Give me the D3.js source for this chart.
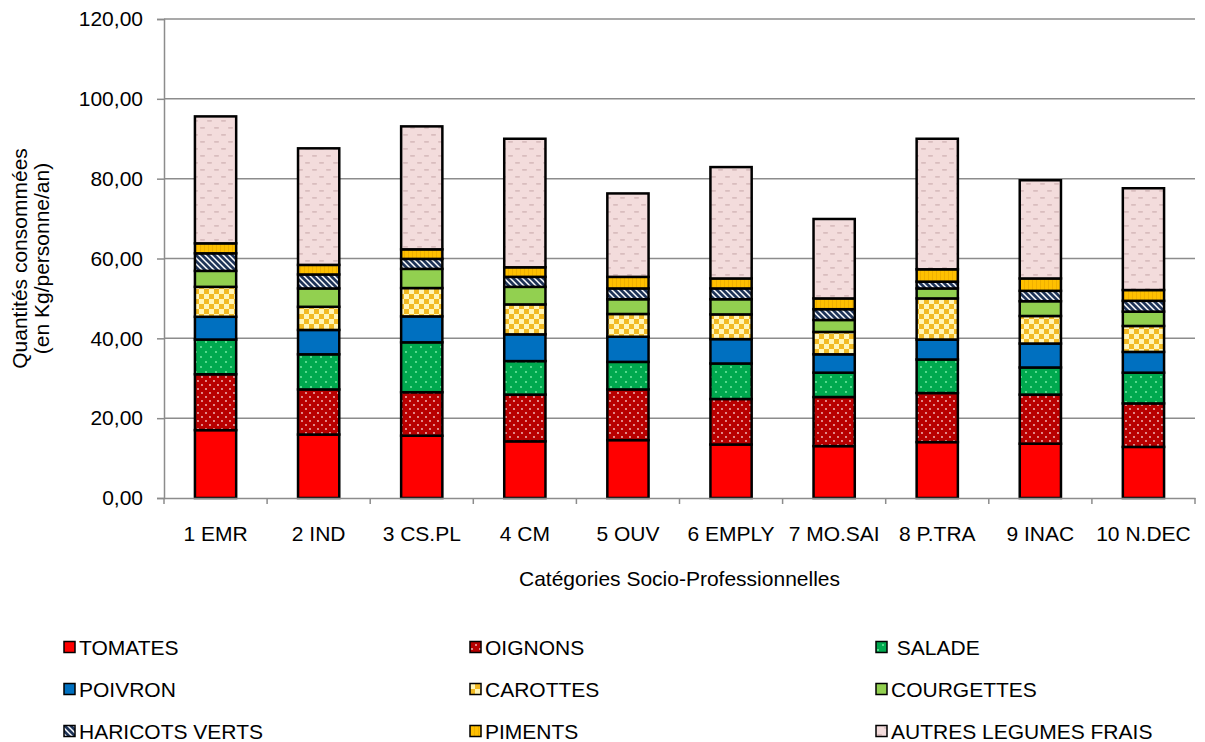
<!DOCTYPE html>
<html>
<head>
<meta charset="utf-8">
<script src="https://cdn.jsdelivr.net/npm/d3@7"></script>
<style>
  html, body { margin: 0; padding: 0; background: #fff; }
  svg { display: block; font-family: "Liberation Sans", Arial, sans-serif; }
</style>
</head>
<body>
<svg id="chart" width="1205" height="742"></svg>
<script>
// Catégories socio-professionnelles
const categories = ["1 EMR", "2 IND", "3 CS.PL", "4 CM", "5 OUV", "6 EMPLY", "7 MO.SAI", "8 P.TRA", "9 INAC", "10 N.DEC"];

// Quantités consommées par légume (kg/personne/an)
const tomates    = [17.0, 15.9, 15.6, 14.2, 14.5, 13.4, 13.0, 14.0, 13.6, 12.8];
const oignons    = [14.0, 11.3, 10.9, 11.7, 12.7, 11.4, 12.3, 12.3, 12.3, 10.9];
const salade     = [8.7, 8.8, 12.5, 8.4, 6.9, 8.9, 6.1, 8.4, 6.8, 7.7];
const poivron    = [5.7, 6.1, 6.5, 6.7, 6.3, 6.1, 4.6, 5.0, 6.0, 5.2];
const carottes   = [7.5, 5.8, 7.1, 7.5, 5.7, 6.2, 5.6, 10.3, 6.9, 6.5];
const courgettes = [4.0, 4.6, 4.8, 4.4, 3.7, 3.8, 3.0, 2.5, 3.7, 3.6];
const haricots   = [4.4, 3.5, 2.5, 2.5, 2.7, 2.7, 2.7, 1.7, 2.6, 2.7];
const piments    = [2.5, 2.4, 2.4, 2.4, 2.9, 2.5, 2.7, 3.1, 3.1, 2.7];
const autres     = [31.8, 29.2, 30.8, 32.2, 20.9, 27.9, 19.9, 32.7, 24.6, 25.5];

const seriesNames = ["TOMATES", "OIGNONS", " SALADE", "POIVRON", "CAROTTES", "COURGETTES", "HARICOTS VERTS", "PIMENTS", "AUTRES LEGUMES FRAIS"];
const seriesValues = [tomates, oignons, salade, poivron, carottes, courgettes, haricots, piments, autres];
const yTicks = [0, 20, 40, 60, 80, 100, 120];

const FONT = 21;
const svg = d3.select("#chart");
const margin = { left: 164, right: 10, top: 19, bottom: 244 };
const W = 1205, H = 742;
const plotW = W - margin.left - margin.right;
const plotH = H - margin.top - margin.bottom;

// ---- fill patterns for each vegetable ----
const defs = svg.append("defs");

function pat(id, size, bg, draw) {
  const p = defs.append("pattern").attr("id", id)
    .attr("patternUnits", "userSpaceOnUse")
    .attr("width", size).attr("height", size);
  p.append("rect").attr("width", size).attr("height", size).attr("fill", bg);
  draw(p);
  return `url(#${id})`;
}

const fills = [];
fills.push("#FF0000");
fills.push(pat("p-oign", 8, "#B80000", p => {
  p.append("circle").attr("cx", 2).attr("cy", 2).attr("r", 0.9).attr("fill", "#F4C8C8");
  p.append("circle").attr("cx", 6).attr("cy", 6).attr("r", 0.9).attr("fill", "#F4C8C8");
}));
fills.push(pat("p-sal", 10, "#00A94F", p => {
  p.append("circle").attr("cx", 2).attr("cy", 3).attr("r", 0.9).attr("fill", "#7CF0A8");
  p.append("circle").attr("cx", 7).attr("cy", 8).attr("r", 0.9).attr("fill", "#7CF0A8");
}));
fills.push("#0070C0");
fills.push(pat("p-car", 10, "#FFF6B8", p => {
  p.append("rect").attr("x", 0).attr("y", 0).attr("width", 5).attr("height", 5).attr("fill", "#F2BA22");
  p.append("rect").attr("x", 5).attr("y", 5).attr("width", 5).attr("height", 5).attr("fill", "#F2BA22");
}));
fills.push("#92D050");
fills.push(pat("p-har", 6, "#FFFFFF", p => {
  p.append("path").attr("d", "M-1,-1 L7,7 M-4,2 L4,10 M2,-4 L10,4")
    .attr("stroke", "#1F3458").attr("stroke-width", 2.8);
}));
fills.push(pat("p-pim", 4, "#FFC000", p => {
  p.append("rect").attr("x", 0).attr("y", 0).attr("width", 1).attr("height", 4).attr("fill", "#F0B000");
}));
fills.push(pat("p-aut", 14, "#F3DCDC", p => {
  p.append("rect").attr("x", 1).attr("y", 3).attr("width", 5).attr("height", 1.8).attr("rx", 0.8).attr("fill", "#D9BDBE");
  p.append("rect").attr("x", 8).attr("y", 10).attr("width", 5).attr("height", 1.8).attr("rx", 0.8).attr("fill", "#D9BDBE");
}));

// ---- scales ----
const x = d3.scaleBand().domain(categories).range([0, plotW]).paddingInner(0.6).paddingOuter(0.3);
const y = d3.scaleLinear().domain([0, 120]).range([plotH, 0]);

const g = svg.append("g").attr("transform", `translate(${margin.left},${margin.top})`);

// gridlines
g.append("g").selectAll("line").data(yTicks.filter(d => d > 0)).join("line")
  .attr("x1", 0).attr("x2", plotW)
  .attr("y1", d => y(d)).attr("y2", d => y(d))
  .attr("stroke", "#8C8C8C").attr("stroke-width", 1.5);

// ---- stacked bars ----
const rows = categories.map((c, i) => {
  const r = { cat: c };
  seriesNames.forEach((s, k) => r[s] = seriesValues[k][i]);
  return r;
});
const stack = d3.stack().keys(seriesNames)(rows);

g.append("g").selectAll("g").data(stack).join("g")
  .attr("fill", (d, k) => fills[k])
  .selectAll("rect").data(d => d).join("rect")
  .attr("x", d => x(d.data.cat))
  .attr("y", d => y(d[1]))
  .attr("width", x.bandwidth())
  .attr("height", d => y(d[0]) - y(d[1]))
  .attr("stroke", "#000").attr("stroke-width", 2.5);

// ---- axes ----
const fmt = d3.formatLocale({ decimal: ",", thousands: " ", grouping: [3], currency: ["", "€"] }).format(".2f");

const yAxis = g.append("g").call(d3.axisLeft(y).tickValues(yTicks).tickFormat(fmt).tickSizeOuter(0).tickSize(7).tickPadding(14));
yAxis.select(".domain").attr("stroke", "#8C8C8C").attr("stroke-width", 1.5);
yAxis.selectAll(".tick line").attr("stroke", "#8C8C8C").attr("stroke-width", 1.5);
yAxis.selectAll(".tick text").attr("font-size", FONT).attr("fill", "#000")
  .attr("font-family", "Liberation Sans, Arial, sans-serif");

const xAxis = g.append("g").attr("transform", `translate(0,${plotH})`)
  .call(d3.axisBottom(x).tickSize(0).tickPadding(28));
xAxis.select(".domain").attr("stroke", "#8C8C8C").attr("stroke-width", 1.5);
xAxis.selectAll(".tick text").attr("font-size", FONT).attr("fill", "#000")
  .attr("font-family", "Liberation Sans, Arial, sans-serif");

// category separator ticks below the axis
g.append("g").selectAll("line").data(d3.range(categories.length + 1)).join("line")
  .attr("x1", i => i * plotW / categories.length).attr("x2", i => i * plotW / categories.length)
  .attr("y1", plotH).attr("y2", plotH + 6)
  .attr("stroke", "#8C8C8C").attr("stroke-width", 1.5);

// axis titles
svg.append("text")
  .attr("x", margin.left + plotW / 2).attr("y", 586)
  .attr("text-anchor", "middle").attr("font-size", FONT)
  .text("Catégories Socio-Professionnelles");

const yt = svg.append("text")
  .attr("transform", `translate(27,${margin.top + plotH / 2}) rotate(-90)`)
  .attr("text-anchor", "middle").attr("font-size", FONT);
yt.append("tspan").attr("x", 0).attr("dy", 0).text("Quantités consommées");
yt.append("tspan").attr("x", 0).attr("dy", 22).text("(en Kg/personne/an)");

// ---- legend ----
const legX = [64, 470, 876];
const legY = [647, 689, 731];
const leg = svg.append("g").selectAll("g").data(seriesNames).join("g")
  .attr("transform", (d, i) => `translate(${legX[i % 3]},${legY[Math.floor(i / 3)]})`);
leg.append("rect").attr("x", 0).attr("y", -5.5).attr("width", 11).attr("height", 11)
  .attr("fill", (d, i) => fills[i]).attr("stroke", "#000").attr("stroke-width", 1.5);
leg.append("text").attr("x", 15).attr("y", 8).attr("font-size", FONT)
  .attr("xml:space", "preserve").style("white-space", "pre")
  .text(d => d);
</script>
</body>
</html>
